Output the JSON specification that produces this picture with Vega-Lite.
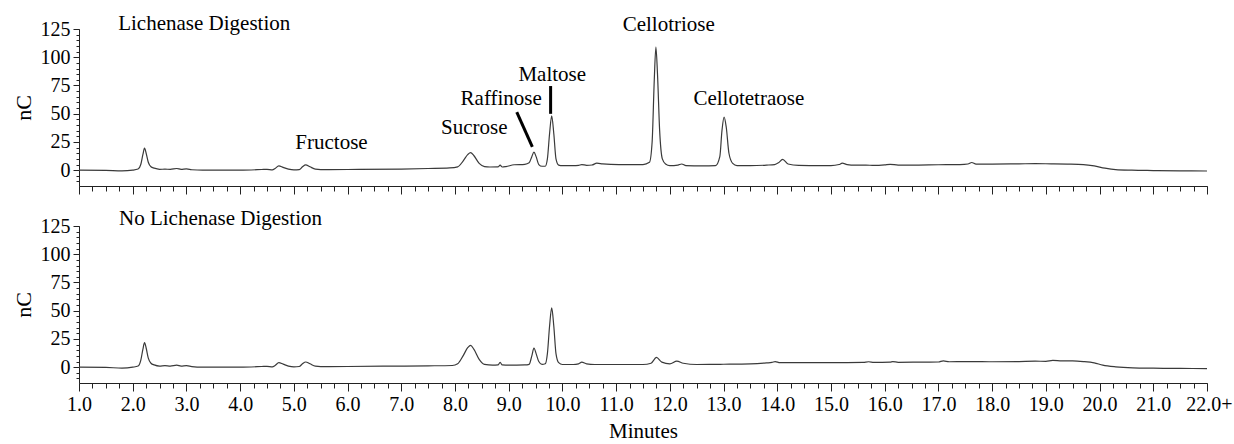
{
  "$schema": "https://vega.github.io/schema/vega-lite/v6.json",
  "bounds": "flush",
  "spacing": 40,
  "padding": {"left": 12, "top": 13, "right": 2, "bottom": 5},
  "config": {
    "view": {"stroke": null},
    "axis": {"labelFont": "Liberation Serif", "titleFont": "Liberation Serif", "labelColor": "#000", "titleColor": "#000", "domainColor": "#222", "tickColor": "#222", "grid": false, "labelFontSize": 20, "titleFontSize": 21, "titleFontWeight": "normal", "domainWidth": 1, "tickWidth": 1},
    "text": {"font": "Liberation Serif", "fontSize": 21, "color": "#000"}
  },
  "datasets": {
    "top": [
      {"t":1.0,"nC":0},{"t":1.5,"nC":-0.2},{"t":1.8,"nC":-0.6},{"t":2.0,"nC":0},{"t":2.1,"nC":1},{"t":2.15,"nC":5},{"t":2.19,"nC":14},{"t":2.22,"nC":19.5},{"t":2.25,"nC":15},{"t":2.29,"nC":7},{"t":2.34,"nC":3},{"t":2.4,"nC":1.8},{"t":2.5,"nC":0.8},{"t":2.6,"nC":0.9},{"t":2.7,"nC":0.8},{"t":2.82,"nC":1.5},{"t":2.9,"nC":0.7},{"t":3.0,"nC":1.1},{"t":3.1,"nC":0.4},{"t":3.3,"nC":0},{"t":4.0,"nC":0},{"t":4.4,"nC":0.6},{"t":4.5,"nC":0.8},{"t":4.6,"nC":0.2},{"t":4.65,"nC":1.5},{"t":4.72,"nC":3.8},{"t":4.8,"nC":2.5},{"t":4.9,"nC":1},{"t":5.0,"nC":0.3},{"t":5.1,"nC":0.5},{"t":5.16,"nC":3},{"t":5.22,"nC":4.7},{"t":5.3,"nC":3},{"t":5.4,"nC":1},{"t":5.6,"nC":0.5},{"t":6.0,"nC":0.6},{"t":7.0,"nC":1.0},{"t":7.5,"nC":1.5},{"t":7.9,"nC":2},{"t":8.05,"nC":3},{"t":8.15,"nC":8},{"t":8.24,"nC":14},{"t":8.29,"nC":15.5},{"t":8.35,"nC":13},{"t":8.45,"nC":6},{"t":8.55,"nC":3.2},{"t":8.65,"nC":2.8},{"t":8.8,"nC":2.9},{"t":8.84,"nC":4.4},{"t":8.88,"nC":2.8},{"t":8.95,"nC":3.2},{"t":9.1,"nC":4.8},{"t":9.3,"nC":5.2},{"t":9.38,"nC":6.5},{"t":9.43,"nC":12},{"t":9.47,"nC":16},{"t":9.51,"nC":12},{"t":9.56,"nC":5},{"t":9.62,"nC":3.5},{"t":9.68,"nC":3.5},{"t":9.72,"nC":10},{"t":9.76,"nC":32},{"t":9.8,"nC":48},{"t":9.84,"nC":32},{"t":9.88,"nC":10},{"t":9.93,"nC":4.5},{"t":10.0,"nC":4},{"t":10.2,"nC":4},{"t":10.3,"nC":4.3},{"t":10.36,"nC":5},{"t":10.45,"nC":4.3},{"t":10.55,"nC":4.6},{"t":10.64,"nC":6.2},{"t":10.75,"nC":5.6},{"t":10.9,"nC":5.2},{"t":11.2,"nC":5},{"t":11.5,"nC":5},{"t":11.62,"nC":7},{"t":11.67,"nC":25},{"t":11.71,"nC":80},{"t":11.74,"nC":109},{"t":11.77,"nC":85},{"t":11.81,"nC":35},{"t":11.86,"nC":10},{"t":11.92,"nC":5.5},{"t":12.0,"nC":4},{"t":12.15,"nC":4.5},{"t":12.22,"nC":5.5},{"t":12.3,"nC":4},{"t":12.6,"nC":3.8},{"t":12.85,"nC":4},{"t":12.93,"nC":12},{"t":12.97,"nC":35},{"t":13.01,"nC":47},{"t":13.05,"nC":38},{"t":13.1,"nC":15},{"t":13.17,"nC":6},{"t":13.25,"nC":4},{"t":13.5,"nC":4},{"t":13.8,"nC":4.5},{"t":13.95,"nC":5},{"t":14.02,"nC":6.5},{"t":14.1,"nC":9.5},{"t":14.2,"nC":5.5},{"t":14.4,"nC":4.2},{"t":14.8,"nC":4},{"t":15.0,"nC":4},{"t":15.15,"nC":5},{"t":15.21,"nC":6.2},{"t":15.3,"nC":5},{"t":15.45,"nC":4.5},{"t":15.65,"nC":4.5},{"t":15.8,"nC":4.2},{"t":16.0,"nC":4.7},{"t":16.1,"nC":5.2},{"t":16.25,"nC":4.5},{"t":16.5,"nC":4.5},{"t":17.0,"nC":4.8},{"t":17.4,"nC":5},{"t":17.55,"nC":5.5},{"t":17.62,"nC":6.8},{"t":17.7,"nC":5.4},{"t":18.0,"nC":5.4},{"t":18.5,"nC":5.6},{"t":18.8,"nC":5.8},{"t":19.1,"nC":5.6},{"t":19.4,"nC":5.4},{"t":19.7,"nC":5.0},{"t":19.9,"nC":3.8},{"t":20.1,"nC":1.8},{"t":20.3,"nC":0.5},{"t":20.6,"nC":0},{"t":21.0,"nC":-0.3},{"t":21.5,"nC":-0.6},{"t":22.0,"nC":-0.7}
    ],
    "bottom": [
      {"t":1.0,"nC":0},{"t":1.5,"nC":-0.2},{"t":1.8,"nC":-0.8},{"t":2.0,"nC":0},{"t":2.1,"nC":1},{"t":2.15,"nC":6},{"t":2.19,"nC":16},{"t":2.22,"nC":21.7},{"t":2.25,"nC":17},{"t":2.29,"nC":8},{"t":2.34,"nC":3.5},{"t":2.4,"nC":2},{"t":2.5,"nC":1},{"t":2.6,"nC":1.3},{"t":2.7,"nC":1},{"t":2.82,"nC":1.8},{"t":2.9,"nC":1},{"t":3.0,"nC":1.3},{"t":3.1,"nC":0.5},{"t":3.3,"nC":0},{"t":4.0,"nC":0},{"t":4.4,"nC":0.6},{"t":4.5,"nC":0.8},{"t":4.6,"nC":0.3},{"t":4.65,"nC":1.5},{"t":4.72,"nC":4},{"t":4.8,"nC":2.7},{"t":4.9,"nC":1},{"t":5.0,"nC":0.3},{"t":5.1,"nC":0.6},{"t":5.16,"nC":3},{"t":5.22,"nC":4.6},{"t":5.3,"nC":3},{"t":5.4,"nC":1},{"t":5.6,"nC":0.5},{"t":6.0,"nC":0.6},{"t":7.0,"nC":1.0},{"t":7.5,"nC":1.2},{"t":7.95,"nC":1.5},{"t":8.05,"nC":3},{"t":8.15,"nC":10},{"t":8.24,"nC":17.5},{"t":8.29,"nC":19.3},{"t":8.35,"nC":16},{"t":8.45,"nC":7},{"t":8.55,"nC":2.5},{"t":8.7,"nC":1.8},{"t":8.8,"nC":2},{"t":8.84,"nC":4.2},{"t":8.88,"nC":2},{"t":9.0,"nC":1.8},{"t":9.3,"nC":2},{"t":9.38,"nC":2.5},{"t":9.43,"nC":10},{"t":9.47,"nC":17},{"t":9.51,"nC":12},{"t":9.56,"nC":5},{"t":9.62,"nC":2.5},{"t":9.68,"nC":3},{"t":9.72,"nC":12},{"t":9.76,"nC":36},{"t":9.8,"nC":52.5},{"t":9.84,"nC":36},{"t":9.88,"nC":12},{"t":9.93,"nC":4},{"t":10.0,"nC":2.4},{"t":10.2,"nC":2.4},{"t":10.3,"nC":3},{"t":10.36,"nC":4.5},{"t":10.45,"nC":3},{"t":10.6,"nC":2.4},{"t":11.0,"nC":2.4},{"t":11.5,"nC":2.4},{"t":11.65,"nC":3.5},{"t":11.75,"nC":8.6},{"t":11.85,"nC":4.5},{"t":12.0,"nC":3},{"t":12.13,"nC":5.4},{"t":12.25,"nC":3.5},{"t":12.5,"nC":2.4},{"t":13.0,"nC":2.6},{"t":13.5,"nC":3},{"t":13.8,"nC":3.8},{"t":13.9,"nC":4.2},{"t":13.96,"nC":5},{"t":14.05,"nC":4},{"t":14.5,"nC":4},{"t":15.0,"nC":4},{"t":15.6,"nC":4.3},{"t":15.7,"nC":4.8},{"t":15.8,"nC":4.3},{"t":16.1,"nC":4.5},{"t":16.15,"nC":5},{"t":16.25,"nC":4.3},{"t":16.7,"nC":4.5},{"t":17.0,"nC":4.6},{"t":17.09,"nC":5.6},{"t":17.2,"nC":4.8},{"t":17.5,"nC":5},{"t":18.0,"nC":4.8},{"t":18.5,"nC":5},{"t":18.8,"nC":5.3},{"t":19.0,"nC":5.2},{"t":19.13,"nC":6},{"t":19.3,"nC":5.6},{"t":19.5,"nC":5.6},{"t":19.7,"nC":5.0},{"t":19.9,"nC":3.8},{"t":20.06,"nC":1.8},{"t":20.3,"nC":0.3},{"t":20.62,"nC":-0.6},{"t":21.0,"nC":-0.9},{"t":21.5,"nC":-1.1},{"t":22.0,"nC":-1.2}
    ],
    "topLabels": [
      {"label":"Fructose","t":5.7,"nC":18.6},
      {"label":"Sucrose","t":8.36,"nC":31.6},
      {"label":"Raffinose","t":8.86,"nC":57.6},
      {"label":"Maltose","t":9.81,"nC":78.9},
      {"label":"Cellotriose","t":11.98,"nC":123},
      {"label":"Cellotetraose","t":13.47,"nC":57.6}
    ],
    "topTitle": [{"label":"Lichenase Digestion","t":1.73,"nC":124}],
    "bottomTitle": [{"label":"No Lichenase Digestion","t":1.745,"nC":125.9}],
    "pointers": [
      {"t":9.15,"t2":9.44,"nC":51.4,"nC2":20.7},
      {"t":9.78,"t2":9.78,"nC":74.5,"nC2":49.9}
    ]
  },
  "vconcat": [
    {
      "width": 1128,
      "height": 157,
      "layer": [
        {
          "data": {"name": "top"},
          "mark": {"type": "line", "interpolate": "monotone", "color": "#3a3a3a", "strokeWidth": 1.2},
          "encoding": {
            "x": {"field": "t", "type": "quantitative", "scale": {"domain": [1, 22], "nice": false, "zero": false},
                  "axis": {"orient": "bottom", "values": [1,2,3,4,5,6,7,8,9,10,11,12,13,14,15,16,17,18,19,20,21,22], "labels": false, "tickSize": 8, "title": null}},
            "y": {"field": "nC", "type": "quantitative", "scale": {"domain": [-14, 125], "nice": false, "zero": false},
                  "axis": {"orient": "left", "values": [0,25,50,75,100,125], "tickSize": 6, "labelPadding": 3, "labelFont": "Liberation Serif", "labelFontSize": 20, "title": "nC", "titleFont": "Liberation Serif", "titleFontSize": 22, "titlePadding": 5}}
          }
        },
        {
          "data": {"name": "topLabels"},
          "mark": {"type": "text", "align": "center", "baseline": "alphabetic", "font": "Liberation Serif"},
          "encoding": {
            "x": {"field": "t", "type": "quantitative",
                  "axis": {"orient": "bottom", "values": [1,1.25,1.5,1.75,2,2.25,2.5,2.75,3,3.25,3.5,3.75,4,4.25,4.5,4.75,5,5.25,5.5,5.75,6,6.25,6.5,6.75,7,7.25,7.5,7.75,8,8.25,8.5,8.75,9,9.25,9.5,9.75,10,10.25,10.5,10.75,11,11.25,11.5,11.75,12,12.25,12.5,12.75,13,13.25,13.5,13.75,14,14.25,14.5,14.75,15,15.25,15.5,15.75,16,16.25,16.5,16.75,17,17.25,17.5,17.75,18,18.25,18.5,18.75,19,19.25,19.5,19.75,20,20.25,20.5,20.75,21,21.25,21.5,21.75,22], "labels": false, "domain": false, "tickSize": 5, "title": null}},
            "y": {"field": "nC", "type": "quantitative",
                  "axis": {"orient": "left", "values": [-10,-5,0,5,10,15,20,25,30,35,40,45,50,55,60,65,70,75,80,85,90,95,100,105,110,115,120,125], "labels": false, "domain": false, "tickSize": 3, "title": null}},
            "text": {"field": "label"}
          }
        },
        {
          "data": {"name": "topTitle"},
          "mark": {"type": "text", "align": "left", "baseline": "alphabetic", "font": "Liberation Serif"},
          "encoding": {
            "x": {"field": "t", "type": "quantitative", "axis": null},
            "y": {"field": "nC", "type": "quantitative", "axis": null},
            "text": {"field": "label"}
          }
        },
        {
          "data": {"name": "pointers"},
          "mark": {"type": "rule", "color": "#000", "strokeWidth": 3},
          "encoding": {
            "x": {"field": "t", "type": "quantitative", "axis": null},
            "x2": {"field": "t2"},
            "y": {"field": "nC", "type": "quantitative", "axis": null},
            "y2": {"field": "nC2"}
          }
        }
      ],
      "resolve": {"axis": {"x": "independent", "y": "independent"}}
    },
    {
      "width": 1128,
      "height": 157,
      "layer": [
        {
          "data": {"name": "bottom"},
          "mark": {"type": "line", "interpolate": "monotone", "color": "#3a3a3a", "strokeWidth": 1.2},
          "encoding": {
            "x": {"field": "t", "type": "quantitative", "scale": {"domain": [1, 22], "nice": false, "zero": false},
                  "axis": {"orient": "bottom", "values": [1,2,3,4,5,6,7,8,9,10,11,12,13,14,15,16,17,18,19,20,21,22], "tickSize": 8, "labelPadding": 3, "labelFlush": false, "labelOverlap": false,
                           "labelFont": "Liberation Serif", "labelFontSize": 20,
                           "labelExpr": "datum.value == 22 ? '22.0+' : format(datum.value, '.1f')",
                           "labelOffset": {"condition": {"test": "datum.value == 22", "value": 2}, "value": 0},
                           "title": "Minutes", "titleFont": "Liberation Serif", "titlePadding": 6}},
            "y": {"field": "nC", "type": "quantitative", "scale": {"domain": [-14, 125], "nice": false, "zero": false},
                  "axis": {"orient": "left", "values": [0,25,50,75,100,125], "tickSize": 6, "labelPadding": 3, "labelFont": "Liberation Serif", "labelFontSize": 20, "title": "nC", "titleFont": "Liberation Serif", "titleFontSize": 22, "titlePadding": 5}}
          }
        },
        {
          "data": {"name": "bottomTitle"},
          "mark": {"type": "text", "align": "left", "baseline": "alphabetic", "font": "Liberation Serif"},
          "encoding": {
            "x": {"field": "t", "type": "quantitative",
                  "axis": {"orient": "bottom", "values": [1,1.25,1.5,1.75,2,2.25,2.5,2.75,3,3.25,3.5,3.75,4,4.25,4.5,4.75,5,5.25,5.5,5.75,6,6.25,6.5,6.75,7,7.25,7.5,7.75,8,8.25,8.5,8.75,9,9.25,9.5,9.75,10,10.25,10.5,10.75,11,11.25,11.5,11.75,12,12.25,12.5,12.75,13,13.25,13.5,13.75,14,14.25,14.5,14.75,15,15.25,15.5,15.75,16,16.25,16.5,16.75,17,17.25,17.5,17.75,18,18.25,18.5,18.75,19,19.25,19.5,19.75,20,20.25,20.5,20.75,21,21.25,21.5,21.75,22], "labels": false, "domain": false, "tickSize": 5, "title": null}},
            "y": {"field": "nC", "type": "quantitative",
                  "axis": {"orient": "left", "values": [-10,-5,0,5,10,15,20,25,30,35,40,45,50,55,60,65,70,75,80,85,90,95,100,105,110,115,120,125], "labels": false, "domain": false, "tickSize": 3, "title": null}},
            "text": {"field": "label"}
          }
        }
      ],
      "resolve": {"axis": {"x": "independent", "y": "independent"}}
    }
  ]
}
